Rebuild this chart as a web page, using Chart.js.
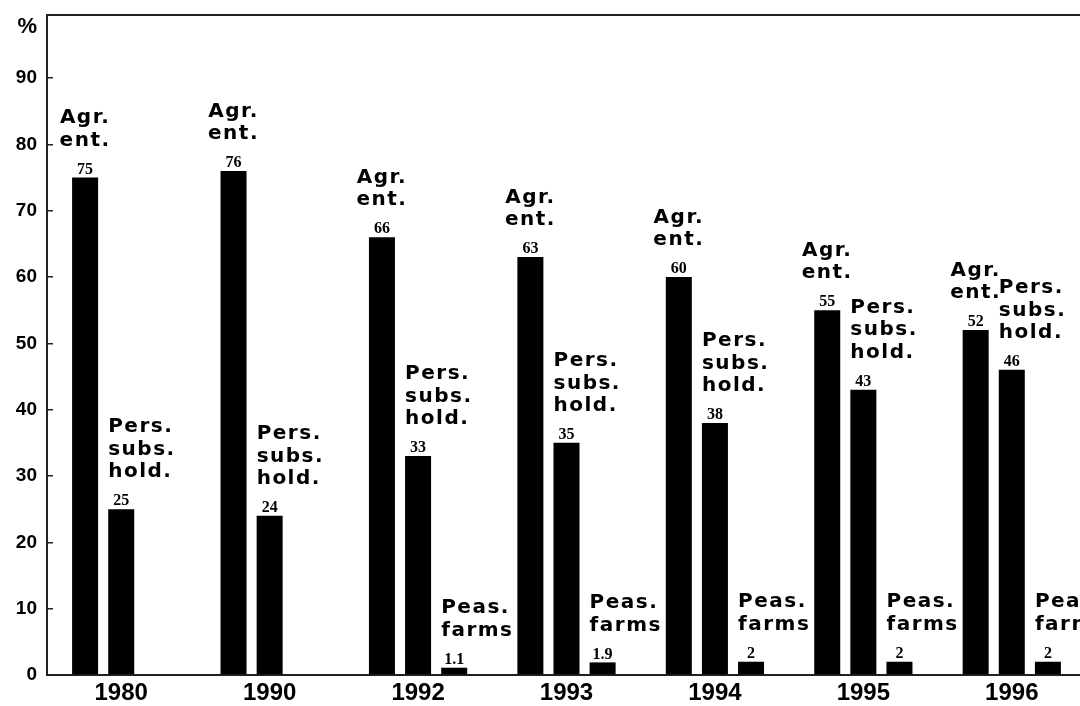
<!DOCTYPE html>
<html>
<head>
<meta charset="utf-8">
<script src="https://cdn.jsdelivr.net/npm/chart.js@4/dist/chart.umd.min.js"></script>
<style>
html, body { margin: 0; padding: 0; background: #fff; overflow: hidden; }
#wrap { width: 1086px; height: 706px; }
</style>
</head>
<body>
<div id="wrap"><canvas id="chart" width="1086" height="706"></canvas></div>
<script>
// data
const years = ['1980', '1990', '1992', '1993', '1994', '1995', '1996'];
const agrEnt = [75, 76, 66, 63, 60, 55, 52];
const persSubsHold = [25, 24, 33, 35, 38, 43, 46];
const peasFarms = [null, null, 1.1, 1.9, 2, 2, 2];
const yTickValues = [0, 10, 20, 30, 40, 50, 60, 70, 80, 90];
const percentTick = 97.7; // where the "%" sits on the axis
const seriesLines = [['Agr.', 'ent.'], ['Pers.', 'subs.', 'hold.'], ['Peas.', 'farms']];

// labels over each bar : value + series name
const barLabels = {
    id: 'barLabels',
    afterDatasetsDraw(chart) {
        const ctx = chart.ctx;
        chart.data.datasets.forEach((ds, di) => {
            const meta = chart.getDatasetMeta(di);
            meta.data.forEach((bar, i) => {
                const v = ds.data[i];
                if (v == null) return;
                ctx.save();
                ctx.fillStyle = '#000';
                ctx.textBaseline = 'middle';
                ctx.textAlign = 'center';
                ctx.font = 'bold 16px "Liberation Serif"';
                ctx.fillText(String(v), bar.x, bar.y - 8);
                ctx.font = 'bold 20px "DejaVu Sans"';
                ctx.letterSpacing = '1.5px';
                const lines = seriesLines[di];
                let tx = bar.x;
                if (di === 0) {
                    ctx.textAlign = 'center';
                } else {
                    ctx.textAlign = 'left';
                    tx = bar.x - bar.width / 2;
                }
                lines.forEach((ln, k) => {
                    ctx.fillText(ln, tx, bar.y - 37 - (lines.length - 1 - k) * 22.5);
                });
                ctx.restore();
            });
        });
    }
};

// top line of the frame
const topFrame = {
    id: 'topFrame',
    afterDraw(chart) {
        const { ctx, chartArea } = chart;
        ctx.save();
        ctx.strokeStyle = '#222';
        ctx.lineWidth = 2;
        ctx.beginPath();
        ctx.moveTo(chartArea.left, chartArea.top);
        ctx.lineTo(chart.width, chartArea.top);
        ctx.stroke();
        ctx.restore();
    }
};

const ctx = document.getElementById('chart').getContext('2d');
new Chart(ctx, {
    type: 'bar',
    data: {
        labels: years,
        datasets: [
            { label: 'Agr. ent.', data: agrEnt, backgroundColor: '#000' },
            { label: 'Pers. subs. hold.', data: persSubsHold, backgroundColor: '#000' },
            { label: 'Peas. farms', data: peasFarms, backgroundColor: '#000' }
        ]
    },
    options: {
        responsive: false,
        animation: false,
        layout: { padding: { top: 15, left: 0, right: 0, bottom: 0 } },
        datasets: { bar: { categoryPercentage: 0.73, barPercentage: 0.72, borderWidth: 0 } },
        plugins: {
            legend: { display: false },
            tooltip: { enabled: false }
        },
        scales: {
            x: {
                grid: { display: true, drawOnChartArea: false, drawTicks: false },
                border: { display: true, color: '#222', width: 2 },
                ticks: {
                    color: '#000',
                    font: { family: 'Liberation Sans', weight: 'bold', size: 24 },
                    padding: 4,
                    maxRotation: 0,
                    autoSkip: false
                },
                afterFit: s => { s.height = 31; s.paddingLeft = 0; s.paddingRight = 0; }
            },
            y: {
                min: 0,
                max: 99.5,
                afterBuildTicks: s => {
                    s.ticks = yTickValues.map(v => ({ value: v })).concat([{ value: percentTick }]);
                },
                ticks: {
                    color: '#000',
                    font: c => ({
                        family: 'Liberation Sans',
                        weight: 'bold',
                        size: (c.tick && c.tick.value === percentTick) ? 22 : 19
                    }),
                    padding: 16,
                    callback: v => (v === percentTick ? '%' : v)
                },
                grid: {
                    drawOnChartArea: false,
                    drawTicks: true,
                    tickLength: -6,
                    lineWidth: 1.5,
                    color: c => (c.tick && c.tick.value > 0 && c.tick.value <= 90) ? '#222' : 'rgba(0,0,0,0)'
                },
                border: { display: true, color: '#222', width: 2 },
                afterFit: s => { s.width = 47; s.paddingTop = 0; s.paddingBottom = 0; }
            }
        }
    },
    plugins: [barLabels, topFrame]
});
</script>
</body>
</html>
